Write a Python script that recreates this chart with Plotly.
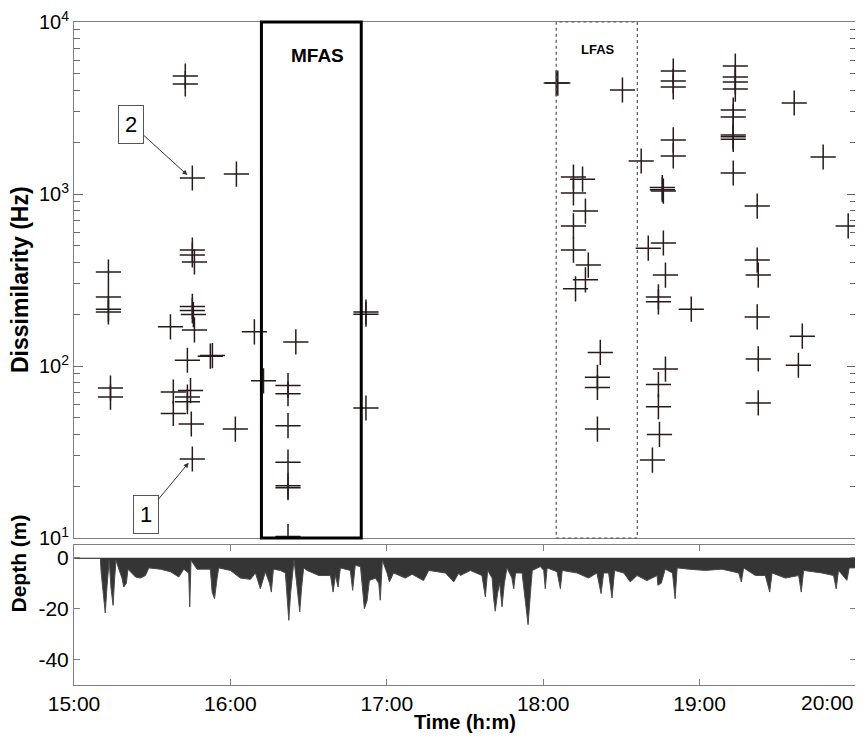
import plotly.graph_objects as go

# clock labels for the shared time axis (minutes after 15:00)
tick_minutes = [0, 60, 120, 180, 240]
tick_labels = ["15:00", "16:00", "17:00", "18:00", "19:00"]
log_ticks = [10, 100, 1000, 10000]
log_labels = ["10<sup>1</sup>", "10<sup>2</sup>", "10<sup>3</sup>", "10<sup>4</sup>"]

# dissimilarity detections: time (min after 15:00) and value (Hz)
det_time = [
    13.2, 13.2, 13.2, 13.2, 14.0, 14.0,
    37.0, 38.1, 38.1,
    42.7, 42.7, 45.4,
    45.4, 45.4, 46.2,
    45.4, 45.4, 45.8, 46.2,
    43.5, 44.7, 43.5, 43.5, 45.0, 45.4,
    52.3, 53.1, 62.3, 61.9,
    69.2, 72.7, 85.1,
    82.1, 82.1, 82.1, 82.1, 82.1, 82.1, 82.1,
    112.0, 112.0, 112.0,
    185.0, 185.6, 210.4,
    229.9, 229.9, 229.9,
    253.7, 253.7, 253.7, 253.7,
    252.9, 252.9, 252.9, 252.9, 252.9, 252.9,
    229.9, 229.9, 217.6, 276.3, 287.4, 297.0,
    225.7, 225.7, 226.1,
    191.6, 195.1, 191.6,
    196.2, 191.6, 191.6, 197.3, 196.2, 192.4,
    262.1, 226.1, 220.3,
    262.1, 226.9, 262.5,
    224.2, 224.2, 236.8,
    262.1, 279.4, 262.5, 277.9,
    201.9, 200.8, 200.8, 200.8,
    226.9, 224.2, 224.2, 224.6, 221.9, 262.5,
]
det_value = [
    352, 252, 214, 206, 74.5, 66,
    169, 70.6, 53,
    4853, 4365, 1239,
    472, 442, 403,
    222, 210, 199, 162,
    108, 72, 66, 62, 46, 28.8,
    114, 115, 1306, 43,
    158, 82, 138,
    77, 69, 45, 27.6, 20.1, 19.6, 10.2,
    206, 200, 57,
    4416, 4416, 4025,
    5188, 4540, 4188,
    5546, 4790, 4480, 4075,
    3076, 2805, 2204, 2150, 2080, 1325,
    2062, 1665, 1556, 3381, 1641, 652,
    1090, 1060, 1040,
    1256, 1220, 1015,
    796, 652, 472, 386, 317, 281,
    851, 519, 484,
    413, 338, 338,
    252, 236, 214,
    193, 149, 110, 101,
    120, 86, 75, 43,
    96, 78, 58, 40, 28.4, 61,
]

# dive profile, lower envelope
depth_time = [
    0.2, 10.1, 10.4, 11.4, 12.0, 12.7, 13.5, 14.2, 15.0, 15.6, 16.1, 17.2, 18.4, 19.1,
    20.1, 20.7, 21.6, 23.6, 25.5, 27.4, 28.7, 33.1, 37.0, 40.2, 42.1, 44.0, 44.4, 44.9,
    47.2, 52.3, 53.0, 53.9, 54.9, 55.5, 60.0, 63.8, 67.7, 69.6, 71.5, 72.8,
    73.4, 75.0, 75.7, 76.5, 79.2, 81.1, 81.7, 82.4, 83.1, 83.9, 84.4, 85.2, 85.8, 86.6,
    87.3, 88.1, 89.4, 93.9, 98.4, 99.4, 100.3, 101.3, 102.2, 106.0, 106.9, 107.9, 109.9,
    110.8, 111.4, 112.4, 113.3, 115.6, 116.9, 117.5, 118.3, 120.1, 121.0, 122.6, 127.1,
    129.7, 134.1, 136.1, 142.5, 145.7, 147.6,
    148.2, 152.1, 156.5, 157.8, 158.7, 160.4, 161.0, 161.6, 162.5, 163.3, 164.2, 165.1,
    166.1, 168.0, 168.7, 169.4, 171.9, 173.1, 174.2, 175.1, 175.8, 178.9, 180.2, 180.8,
    181.5, 185.3, 186.6, 187.3, 193.0, 197.4, 200.6, 202.2, 203.2, 205.1, 206.4, 207.4,
    210.9, 213.4, 216.0, 219.8, 223.7,
    224.0, 225.3, 226.8, 229.6, 230.6, 231.4, 235.8, 242.2, 248.6, 255.0, 256.0, 256.9,
    261.4, 265.2, 266.9, 267.8, 272.9, 278.0, 279.0, 279.9, 286.9, 291.4, 292.4, 293.3,
    296.5, 297.4, 299.7,
]
depth_m = [
    -0.3, -0.3, -5.6, -14.8, -21.7, -10.8, -1.0, -12.0, -18.7, -8.0, -1.0, -4.5, -8.0, -11.5,
    -10.0, -4.5, -5.5, -7.6, -8.0, -7.0, -4.0, -4.5, -5.5, -7.6, -4.5, -6.0, -19.3, -1.0,
    -4.5, -4.5, -13.5, -16.1, -8.0, -4.0, -5.0, -8.0, -8.5, -6.0, -12.2, -8.0,
    -5.6, -10.0, -13.5, -4.5, -5.0, -6.0, -15.0, -24.6, -14.0, -5.0, -1.0, -8.0, -15.0, -21.3,
    -12.0, -4.0, -5.0, -7.0, -7.0, -13.5, -7.0, -11.5, -4.0, -5.0, -12.8, -3.0, -3.5,
    -12.0, -20.0, -17.0, -9.0, -8.0, -10.0, -16.7, -1.0, -6.0, -9.5, -6.0, -8.0,
    -6.5, -9.0, -5.0, -6.0, -9.5, -6.0,
    -7.0, -5.0, -7.0, -15.4, -5.0, -8.0, -16.0, -21.0, -14.0, -10.0, -19.3, -10.0,
    -4.0, -8.0, -12.2, -6.0, -6.0, -16.0, -26.3, -14.0, -5.0, -3.5, -5.0, -12.2,
    -4.0, -5.5, -12.2, -5.0, -6.0, -8.0, -6.0, -14.1, -6.0, -6.0, -15.8, -5.0,
    -6.0, -9.5, -7.0, -9.0, -7.0,
    -10.8, -10.0, -4.5, -6.0, -16.1, -4.0, -4.5, -5.0, -4.5, -6.0, -9.5, -4.0,
    -7.0, -7.0, -13.5, -6.0, -8.0, -7.0, -13.5, -5.0, -6.0, -7.0, -12.2, -5.0,
    -8.9, -4.0, -4.0,
]

# sonar exposure windows (min after 15:00)
mfas_window = [71.9, 110.2]
lfas_window = [185.0, 216.1]

axis_grey = "#7f7f7f"
mark_col = "#2a1a1a"
arial = "Liberation Sans, Arial"

# panel split (paper fractions of the plotting area)
top_dom = [0.2217, 1.0]
bot_dom = [0.0, 0.2112]

fig = go.Figure()

fig.add_trace(go.Scatter(
    x=det_time, y=det_value, mode="markers",
    marker=dict(symbol="cross-thin", size=18, line=dict(color=mark_col, width=1.5)),
    xaxis="x", yaxis="y", showlegend=False,
))

fig.add_trace(go.Scatter(
    x=depth_time, y=depth_m, mode="lines",
    line=dict(color="#4a4a4a", width=1),
    fill="tozeroy", fillcolor="#353535",
    xaxis="x2", yaxis="y2", showlegend=False,
))

# MFAS / LFAS boxes
fig.add_shape(type="rect", xref="x", yref="paper",
              x0=mfas_window[0], x1=mfas_window[1], y0=top_dom[0], y1=top_dom[1],
              line=dict(color="black", width=3))
fig.add_shape(type="rect", xref="x", yref="paper",
              x0=lfas_window[0], x1=lfas_window[1], y0=top_dom[0], y1=top_dom[1],
              line=dict(color="#555555", width=1.2, dash="dot"))

annots = [
    dict(x=93.5, y=0.950, xref="x", yref="paper", yanchor="middle", text="<b>MFAS</b>",
         showarrow=False, font=dict(family=arial, size=19, color="black")),
    dict(x=201.0, y=0.959, xref="x", yref="paper", yanchor="middle", text="<b>LFAS</b>",
         showarrow=False, font=dict(family=arial, size=13, color="black")),
    # callout boxes
    dict(x=43.5, y=3.110, xref="x", yref="y", text="2", showarrow=True,
         ax=-56, ay=-51, arrowhead=2, arrowsize=1, arrowwidth=1, arrowcolor="#333333",
         bordercolor="#555555", borderwidth=1, borderpad=6, bgcolor="white",
         font=dict(family=arial, size=22, color="black")),
    dict(x=44.0, y=1.438, xref="x", yref="y", text="1", showarrow=True,
         ax=-43, ay=52, arrowhead=2, arrowsize=1, arrowwidth=1, arrowcolor="#333333",
         bordercolor="#555555", borderwidth=1, borderpad=6, bgcolor="white",
         font=dict(family=arial, size=22, color="black")),
    # axis titles
    dict(x=0, y=sum(top_dom) / 2, xref="paper", yref="paper", xshift=-69,
         text="<b>Dissimilarity (Hz)</b>", textangle=-90, showarrow=False,
         font=dict(family=arial, size=23, color="black")),
    dict(x=0, y=sum(bot_dom) / 2, xref="paper", yref="paper", xshift=-69,
         text="<b>Depth (m)</b>", textangle=-90, showarrow=False,
         font=dict(family=arial, size=21, color="black")),
    dict(x=0.5, y=0, xref="paper", yref="paper", yanchor="top", yshift=-24,
         text="<b>Time (h:m)</b>", showarrow=False,
         font=dict(family=arial, size=20, color="black")),
    dict(x=300, y=0, xref="x2", yref="paper", xanchor="right", yanchor="top", yshift=-4,
         text="20:00", showarrow=False,
         font=dict(family=arial, size=21, color="black")),
]

# the page body adds an 8 px offset, so the figure is 8 px smaller each way
fig.update_layout(
    width=855, height=728,
    margin=dict(l=66, r=7, t=14, b=51, autoexpand=False),
    paper_bgcolor="white", plot_bgcolor="white",
    annotations=annots,
    xaxis=dict(domain=[0, 1], anchor="y", range=[0, 300], showticklabels=False,
               ticks="", showgrid=False, zeroline=False, automargin=False,
               showline=True, mirror=True, linecolor=axis_grey, linewidth=1),
    yaxis=dict(domain=top_dom, anchor="x", type="log", range=[1, 4], dtick=1,
               tickvals=log_ticks, ticktext=log_labels, automargin=False,
               ticklabeloverflow="allow",
               showgrid=False, zeroline=False,
               ticks="inside", ticklen=9, tickcolor="#666666",
               minor=dict(ticks="inside", ticklen=6, tickcolor="#666666",
                          dtick="D1", showgrid=False),
               showline=True, mirror="allticks", linecolor=axis_grey, linewidth=1,
               tickfont=dict(family=arial, size=20, color="black")),
    xaxis2=dict(domain=[0, 1], anchor="y2", range=[0, 300],
                tickvals=tick_minutes, ticktext=tick_labels, automargin=False,
                ticks="inside", ticklen=6, tickcolor=axis_grey,
                showgrid=False, zeroline=False,
                showline=True, mirror="allticks", linecolor=axis_grey, linewidth=1,
                tickfont=dict(family=arial, size=21, color="black")),
    yaxis2=dict(domain=bot_dom, anchor="x2", range=[-50, 5],
                tickvals=[0, -20, -40], ticktext=["0", "-20", "-40"], automargin=False,
                ticks="inside", ticklen=6, tickcolor=axis_grey,
                showgrid=False, zeroline=False,
                showline=True, mirror="allticks", linecolor=axis_grey, linewidth=1,
                tickfont=dict(family=arial, size=21, color="black")),
)

fig.write_html("out.html")
